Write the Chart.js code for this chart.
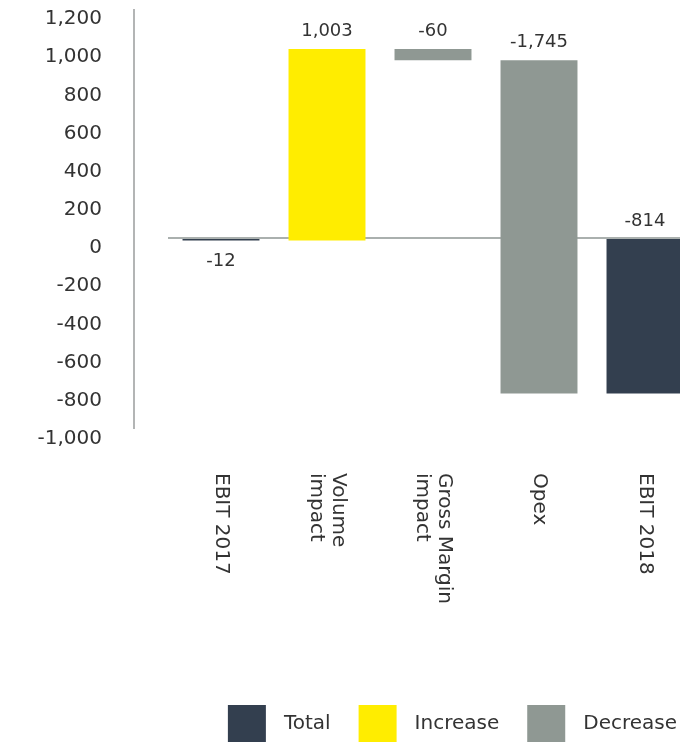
<!DOCTYPE html>
<html>
<head>
<meta charset="utf-8">
<script src="https://cdn.jsdelivr.net/npm/chart.js@4.4.1/dist/chart.umd.min.js"></script>
<style>
  html, body { margin: 0; padding: 0; overflow: hidden; background: #fff; }
  #wrap { width: 700px; height: 742px; }
</style>
</head>
<body>
<div id="wrap"><canvas id="chart" width="700" height="742"></canvas></div>
<script>
const categories = [['EBIT 2017'], ['Volume', 'impact'], ['Gross Margin', 'impact'], ['Opex'], ['EBIT 2018']];
const changes = [-12, 1003, -60, -1745, -814];
const kinds = ['Total', 'Increase', 'Decrease', 'Decrease', 'Total'];
const legendNames = ['Total', 'Increase', 'Decrease'];
const yMin = -1000;
const yMax = 1200;
const yStep = 200;

const colors = { Total: '#333f4f', Increase: '#ffed00', Decrease: '#8f9893' };
const textColor = '#333333';
const fontFamily = "'DejaVu Sans', sans-serif";

// totals start at zero, changes start where the previous bar ended
let running = 0;
const ranges = changes.map((v, i) => {
    if (kinds[i] === 'Total') {
        running = v;
        return [0, v];
    }
    const r = [running, running + v];
    running += v;
    return r;
});

const fmt = v => v.toLocaleString('en-US');

const yAxisLine = {
    id: 'yAxisLine',
    beforeDatasetsDraw(chart) {
        const y = chart.scales.y;
        const ctx = chart.ctx;
        const x = chart.chartArea.left - 34;
        ctx.save();
        ctx.strokeStyle = '#9a9d9c';
        ctx.lineWidth = 1.5;
        ctx.beginPath();
        ctx.moveTo(x, y.top);
        ctx.lineTo(x, y.bottom);
        ctx.stroke();
        ctx.restore();
    }
};

const valueLabels = {
    id: 'valueLabels',
    afterDatasetsDraw(chart) {
        const ctx = chart.ctx;
        const meta = chart.getDatasetMeta(0);
        ctx.save();
        ctx.font = '18px ' + fontFamily;
        ctx.fillStyle = textColor;
        ctx.textAlign = 'center';
        ctx.textBaseline = 'middle';
        meta.data.forEach((bar, i) => {
            const top = Math.min(bar.y, bar.base);
            const bottom = Math.max(bar.y, bar.base);
            // first total sits under its bar, the rest above
            const y = i === 0 ? bottom + 21 : top - 18;
            ctx.fillText(fmt(changes[i]), bar.x, y);
        });
        ctx.restore();
    }
};

const categoryLabels = {
    id: 'categoryLabels',
    afterDraw(chart) {
        const ctx = chart.ctx;
        const xs = chart.scales.x;
        ctx.save();
        ctx.font = '20px ' + fontFamily;
        ctx.fillStyle = textColor;
        ctx.textAlign = 'left';
        ctx.textBaseline = 'middle';
        chart.data.labels.forEach((lines, i) => {
            ctx.save();
            ctx.translate(xs.getPixelForValue(i), chart.chartArea.bottom + 44);
            ctx.rotate(Math.PI / 2);
            lines.forEach((line, j) => {
                ctx.fillText(line, 0, (j - (lines.length - 1) / 2) * 22);
            });
            ctx.restore();
        });
        ctx.restore();
    }
};

const bottomLegend = {
    id: 'bottomLegend',
    afterDraw(chart) {
        const ctx = chart.ctx;
        ctx.save();
        ctx.font = '20px ' + fontFamily;
        ctx.textBaseline = 'middle';
        ctx.textAlign = 'left';
        let x = 677;
        const boxH = 37, boxW = 38;
        const top = chart.height - boxH;
        for (let i = legendNames.length - 1; i >= 0; i--) {
            const name = legendNames[i];
            const w = ctx.measureText(name).width;
            const tx = x - w;
            ctx.fillStyle = textColor;
            ctx.fillText(name, tx, top + boxH / 2);
            const bx = tx - 18 - boxW;
            ctx.fillStyle = colors[name];
            ctx.fillRect(bx, top, boxW, boxH);
            x = bx - 28;
        }
        ctx.restore();
    }
};

new Chart(document.getElementById('chart'), {
    type: 'bar',
    plugins: [yAxisLine, valueLabels, categoryLabels, bottomLegend],
    data: {
        labels: categories,
        datasets: [{
            data: ranges,
            backgroundColor: kinds.map(k => colors[k]),
            borderWidth: 0,
            barPercentage: 0.726,
            categoryPercentage: 1
        }]
    },
    options: {
        responsive: false,
        animation: false,
        devicePixelRatio: 1,
        layout: { padding: { top: 9, right: 2, left: 0, bottom: 0 } },
        plugins: {
            legend: { display: false },
            tooltip: { enabled: false }
        },
        scales: {
            x: {
                grid: { display: false },
                border: { display: false },
                ticks: { display: false },
                afterFit(scale) { scale.height = 313; }
            },
            y: {
                min: yMin,
                max: yMax,
                border: { display: false },
                grid: {
                    drawTicks: false,
                    lineWidth: 2,
                    color: c => c.tick && c.tick.value === 0 ? '#aab0ae' : 'rgba(0,0,0,0)'
                },
                ticks: {
                    stepSize: yStep,
                    padding: 66,
                    labelOffset: 10,
                    color: textColor,
                    font: { family: fontFamily, size: 20 },
                    callback: v => fmt(v)
                },
                afterFit(scale) {
                    scale.width = 168;
                    scale.paddingTop = 0;
                    scale.paddingBottom = 0;
                }
            }
        }
    }
});
</script>
</body>
</html>
